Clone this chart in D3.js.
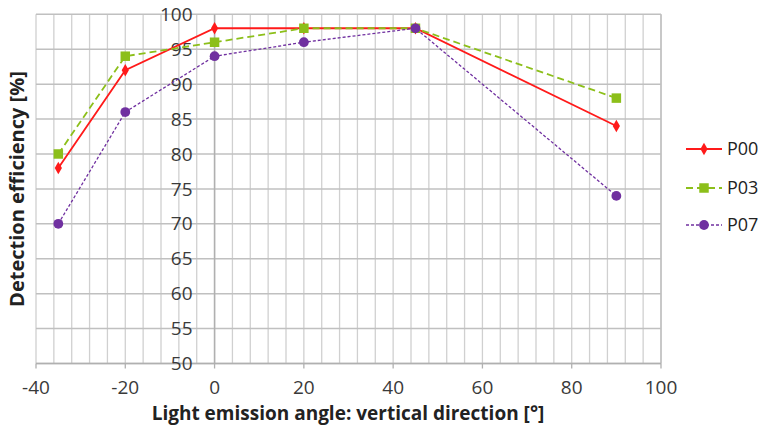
<!DOCTYPE html>
<html><head><meta charset="utf-8">
<script src="https://cdn.jsdelivr.net/npm/d3@7"></script>
<style>body{margin:0;background:#fff}svg{display:block}text{font-family:"Open Sans",sans-serif}</style>
</head><body>
<svg id="c" width="763" height="433"></svg>
<script>
const angles = [-35, -20, 0, 20, 45, 90];
const p00 = [78, 92, 98, 98, 98, 84];
const p03 = [80, 94, 96, 98, 98, 88];
const p07 = [70, 86, 94, 96, 98, 74];
const seriesNames = ["P00", "P03", "P07"];
const xTicks = [-40, -20, 0, 20, 40, 60, 80, 100];
const yTicks = [50, 55, 60, 65, 70, 75, 80, 85, 90, 95, 100];

const svg = d3.select("#c");
const x = d3.scaleLinear().domain([-40, 100]).range([36, 661]);
const y = d3.scaleLinear().domain([50, 100]).range([363.5, 14.3]);

// minor vertical grid every 4 units
const minor = d3.range(-40, 100.1, 4);
svg.append("g").selectAll("line").data(minor).join("line")
  .attr("x1", d => x(d)).attr("x2", d => x(d))
  .attr("y1", y(100)).attr("y2", y(50))
  .attr("stroke", "#d0d0d0").attr("stroke-width", 1.3);
svg.append("g").selectAll("line").data(yTicks).join("line")
  .attr("x1", x(-40)).attr("x2", x(100))
  .attr("y1", d => y(d)).attr("y2", d => y(d))
  .attr("stroke", "#c0c0c0").attr("stroke-width", 1.5);
svg.append("line").attr("x1", x(100)).attr("x2", x(100)).attr("y1", y(100)).attr("y2", y(50))
  .attr("stroke", "#c0c0c0").attr("stroke-width", 1.5);
svg.append("g").selectAll("line").data(xTicks).join("line")
  .attr("x1", d => x(d)).attr("x2", d => x(d))
  .attr("y1", y(50)).attr("y2", y(50) + 5)
  .attr("stroke", "#b0b0b0").attr("stroke-width", 1.3);
svg.append("line").attr("x1", x(-40)).attr("x2", x(100)).attr("y1", y(50)).attr("y2", y(50))
  .attr("stroke", "#b0b0b0").attr("stroke-width", 1.5);
svg.append("line").attr("x1", x(0)).attr("x2", x(0)).attr("y1", y(100)).attr("y2", y(50))
  .attr("stroke", "#b0b0b0").attr("stroke-width", 1.5);

svg.append("g").selectAll("text").data(yTicks).join("text")
  .attr("x", x(0) - 22).attr("y", d => y(d)).attr("dy", "0.35em")
  .attr("text-anchor", "end").attr("font-size", 19).attr("fill", "#3a3a3a")
  .text(d => d);
svg.append("g").selectAll("text").data(xTicks).join("text")
  .attr("x", d => x(d)).attr("y", 387).attr("dy", "0.35em")
  .attr("text-anchor", "middle").attr("font-size", 19).attr("fill", "#3a3a3a")
  .text(d => d);

svg.append("text").attr("x", 348).attr("y", 413).attr("dy", "0.35em")
  .attr("text-anchor", "middle").attr("font-size", 19).attr("font-weight", "bold").attr("fill", "#222")
  .text("Light emission angle: vertical direction [°]");
svg.append("text").attr("transform", "translate(17,189) rotate(-90)").attr("dy", "0.35em")
  .attr("text-anchor", "middle").attr("font-size", 20).attr("font-weight", "bold").attr("fill", "#222")
  .text("Detection efficiency [%]");

const series = [
  {name: seriesNames[0], vals: p00, color: "#ff1a1a", dash: null, sym: d3.symbolDiamond, size: 45, w: 1.8},
  {name: seriesNames[1], vals: p03, color: "#8cbf1a", dash: "7,4", sym: d3.symbolSquare, size: 90, w: 1.8},
  {name: seriesNames[2], vals: p07, color: "#7030a0", dash: "3,2", sym: d3.symbolCircle, size: 75, w: 1.3}
];
const line = d3.line().x(d => x(d[0])).y(d => y(d[1]));
series.forEach(s => {
  const pts = angles.map((a, i) => [a, s.vals[i]]);
  svg.append("path").attr("d", line(pts)).attr("fill", "none")
    .attr("stroke", s.color).attr("stroke-width", s.w)
    .attr("stroke-dasharray", s.dash);
  svg.append("g").selectAll("path").data(pts).join("path")
    .attr("transform", d => `translate(${x(d[0])},${y(d[1])})`)
    .attr("d", d3.symbol().type(s.sym).size(s.size)).attr("fill", s.color);
});

const ly = [149, 188, 225];
series.forEach((s, i) => {
  const g = svg.append("g");
  g.append("line").attr("x1", 686).attr("x2", 722).attr("y1", ly[i]).attr("y2", ly[i])
    .attr("stroke", s.color).attr("stroke-width", s.w).attr("stroke-dasharray", s.dash);
  g.append("path").attr("transform", `translate(704,${ly[i]})`)
    .attr("d", d3.symbol().type(s.sym).size(s.size)).attr("fill", s.color);
  g.append("text").attr("x", 727).attr("y", ly[i]).attr("dy", "0.35em")
    .attr("font-size", 18).attr("fill", "#222").text(s.name);
});
</script>
</body></html>
